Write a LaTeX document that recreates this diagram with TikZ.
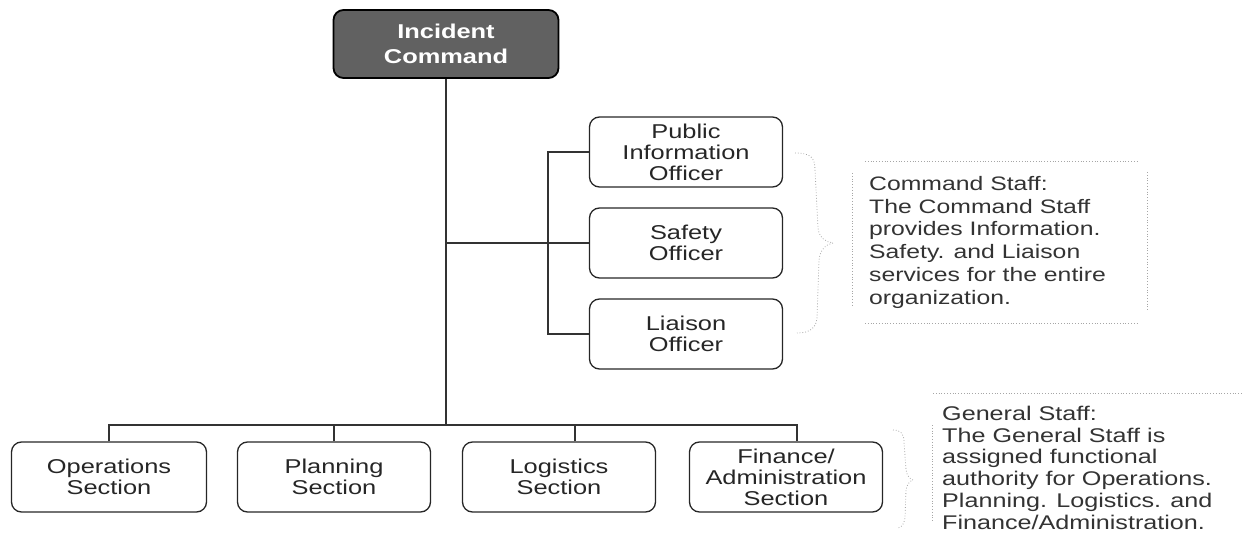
\documentclass[tikz,border=0pt]{standalone}
\usepackage{fontspec}
\setmainfont{Liberation Sans}[FakeStretch=1.27]

\tikzset{
  unit/.style={draw=black!85, line width=1.3pt, rounded corners=10pt, minimum width=193pt, minimum height=70pt, inner sep=0pt, align=center, text=black!85, font=\fontsize{20}{21}\selectfont},
  link/.style={draw=black!80, line width=1.2pt},
  note/.style={anchor=north west, inner sep=0pt, align=left, text=black!80},
  faint/.style={draw=black!35, line width=0.8pt, dotted}
}

\begin{document}
\begin{tikzpicture}[x=1pt,y=-1pt]
\useasboundingbox (0,0) rectangle (1243,556);

    \node[unit, fill=black!62, draw=black, line width=1.8pt, minimum width=225pt, minimum height=68pt, text=white, font=\bfseries\fontsize{20}{25}\selectfont] (ic) at (446,44) {Incident\\Command};

    % command staff
    \node[unit] (pio) at (686,152) {Public\\Information\\Officer};
    \node[unit] (safety) at (686,243) {Safety\\Officer};
    \node[unit] (liaison) at (686,334) {Liaison\\Officer};

    % general staff
    \node[unit, minimum width=195pt] (ops) at (109,477) {Operations\\Section};
    \node[unit] (plan) at (334,477) {Planning\\Section};
    \node[unit] (logi) at (559,477) {Logistics\\Section};
    \node[unit] (fin) at (786,477) {Finance/\\Administration\\Section};

    \coordinate (bus) at (446,425);
    \coordinate (cmd) at (548,243);

    \draw[link] (ic.south) -- (bus);
    \draw[link] (ops.north) |- (bus) -| ([xshift=11pt]fin.north);
    \draw[link] (plan.north) -- (plan.north |- bus);
    \draw[link] ([xshift=16pt]logi.north) -- ([xshift=16pt]logi.north |- bus);

    \draw[link] (bus |- cmd) -- (cmd);
    \draw[link] (pio.west) -| (cmd) |- (liaison.west);
    \draw[link] (cmd) -- (safety.west);

    % braces
    \draw[faint] (795,153) .. controls (811,153) and (815,158) .. (815,170) -- (818,228) .. controls (819,238) and (826,242) .. (833,243) .. controls (826,244) and (820,250) .. (819,260) -- (817,318) .. controls (816,328) and (810,333) .. (797,333);
    \draw[faint] (893,430) .. controls (901,430) and (904,434) .. (904,442) -- (906,470) .. controls (907,476) and (910,479) .. (913,480) .. controls (910,481) and (907,484) .. (906,490) -- (905,518) .. controls (904,525) and (901,528) .. (897,528);

    % notes
    \draw[faint] (865,161) -- (1137,161);
    \draw[faint] (865,323) -- (1137,323);
    \draw[faint] (852,173) -- (852,307);
    \draw[faint] (1147,172) -- (1147,310);
    \node[note, font=\fontsize{19.5}{22.8}\selectfont] (cmdnote) at (869,176) {Command Staff:\\The Command Staff\\provides Information.\\Safety. and Liaison\\services for the entire\\organization.};

    \draw[faint] (933,393) -- (1242,393);
    \draw[faint] (932,425) -- (932,522);
    \node[note, font=\fontsize{19.8}{21.7}\selectfont] (gennote) at (942,406) {General Staff:\\The General Staff is\\assigned functional\\authority for Operations.\\Planning. Logistics. and\\Finance/Administration.};
\end{tikzpicture}
\end{document}
